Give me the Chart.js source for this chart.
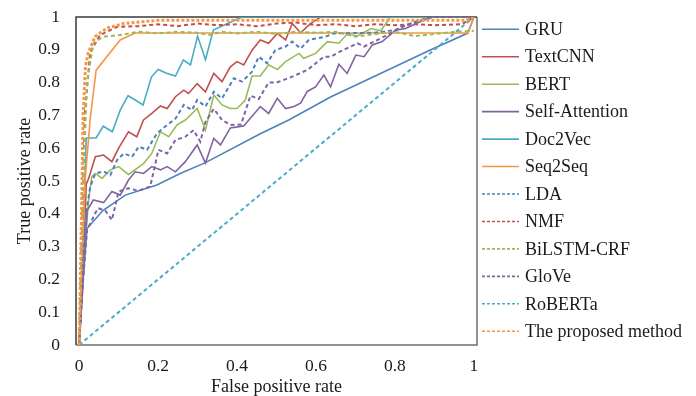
<!DOCTYPE html>
<html>
<head>
<meta charset="utf-8">
<script src="https://cdn.jsdelivr.net/npm/chart.js@4.4.1/dist/chart.umd.min.js"></script>
<style>
  html, body { margin: 0; padding: 0; background: #fff; }
</style>
</head>
<body>
<canvas id="rocChart" width="696" height="396"></canvas>
<script>
// ROC curves, [false positive rate, true positive rate]
const gru = [[0,0],[0.01,0.2],[0.02,0.355],[0.06,0.41],[0.117,0.457],[0.197,0.488],[0.256,0.523],[0.32,0.556],[0.459,0.644],[0.531,0.686],[0.637,0.756],[0.75,0.82],[0.891,0.9],[0.985,0.951],[1,1]];
const textCnn = [[0,0],[0.012,0.3],[0.018,0.49],[0.024,0.508],[0.041,0.574],[0.062,0.579],[0.083,0.559],[0.1,0.6],[0.125,0.65],[0.146,0.635],[0.163,0.686],[0.184,0.706],[0.206,0.729],[0.223,0.721],[0.244,0.757],[0.265,0.777],[0.277,0.767],[0.299,0.797],[0.32,0.772],[0.341,0.828],[0.362,0.803],[0.383,0.848],[0.4,0.864],[0.417,0.854],[0.438,0.899],[0.459,0.93],[0.48,0.92],[0.502,0.95],[0.523,0.93],[0.54,0.98],[0.561,0.952],[0.586,0.98],[0.612,1],[1,1]];
const bert = [[0,0],[0.012,0.25],[0.023,0.433],[0.032,0.513],[0.041,0.523],[0.058,0.508],[0.079,0.534],[0.1,0.544],[0.125,0.52],[0.163,0.553],[0.184,0.584],[0.206,0.65],[0.227,0.635],[0.248,0.671],[0.269,0.686],[0.299,0.721],[0.32,0.655],[0.341,0.762],[0.362,0.732],[0.383,0.721],[0.4,0.721],[0.421,0.747],[0.438,0.82],[0.459,0.82],[0.48,0.854],[0.502,0.84],[0.523,0.864],[0.557,0.889],[0.569,0.874],[0.599,0.889],[0.629,0.925],[0.658,0.92],[0.679,0.948],[0.705,0.942],[0.739,0.965],[0.764,0.958],[0.789,1],[1,1]];
const selfAttention = [[0,0],[0.01,0.2],[0.02,0.41],[0.036,0.442],[0.062,0.434],[0.083,0.468],[0.104,0.457],[0.125,0.503],[0.142,0.528],[0.163,0.523],[0.184,0.544],[0.206,0.534],[0.223,0.544],[0.244,0.528],[0.269,0.559],[0.299,0.61],[0.32,0.555],[0.341,0.63],[0.358,0.61],[0.383,0.662],[0.417,0.668],[0.459,0.727],[0.48,0.706],[0.502,0.752],[0.523,0.721],[0.544,0.727],[0.561,0.737],[0.578,0.773],[0.599,0.787],[0.62,0.823],[0.637,0.787],[0.658,0.856],[0.679,0.828],[0.701,0.884],[0.722,0.879],[0.743,0.915],[0.768,0.925],[0.802,0.96],[0.827,0.965],[0.865,0.986],[0.891,1],[1,1]];
const doc2Vec = [[0,0],[0.012,0.4],[0.018,0.631],[0.043,0.631],[0.061,0.667],[0.084,0.65],[0.104,0.716],[0.124,0.76],[0.142,0.747],[0.162,0.732],[0.183,0.817],[0.2,0.84],[0.223,0.828],[0.244,0.82],[0.264,0.869],[0.282,0.854],[0.3,0.942],[0.32,0.87],[0.34,0.96],[0.39,0.988],[0.414,1],[1,1]];
const seq2Seq = [[0,0],[0.015,0.5],[0.028,0.69],[0.043,0.838],[0.104,0.93],[0.142,0.951],[0.985,0.951],[1,1]];
const lda = [[0,0],[0.012,0.3],[0.02,0.42],[0.028,0.483],[0.041,0.523],[0.062,0.529],[0.079,0.518],[0.096,0.564],[0.113,0.584],[0.134,0.574],[0.151,0.605],[0.172,0.595],[0.197,0.645],[0.223,0.671],[0.244,0.69],[0.265,0.732],[0.286,0.716],[0.299,0.747],[0.32,0.727],[0.341,0.772],[0.362,0.752],[0.392,0.813],[0.413,0.803],[0.438,0.833],[0.455,0.879],[0.476,0.859],[0.497,0.899],[0.523,0.91],[0.54,0.925],[0.561,0.904],[0.582,0.93],[0.624,0.94],[0.645,0.95],[0.75,0.952],[0.8,0.96],[0.85,0.985],[0.9,1],[1,1]];
const nmf = [[0,0],[0.008,0.4],[0.014,0.7],[0.028,0.893],[0.053,0.945],[0.096,0.97],[0.15,0.972],[0.2,0.978],[0.25,0.972],[0.3,0.98],[0.35,0.975],[0.4,0.978],[0.45,0.972],[0.5,0.98],[0.55,0.983],[0.6,0.975],[0.65,0.978],[0.7,0.972],[0.75,0.978],[0.8,0.975],[0.85,0.978],[0.9,0.975],[0.97,0.978],[1,1]];
const biLstmCrf = [[0,0],[0.01,0.5],[0.02,0.8],[0.036,0.92],[0.061,0.94],[0.104,0.945],[0.15,0.955],[0.2,0.95],[0.25,0.955],[0.3,0.952],[0.33,0.945],[0.36,0.955],[0.4,0.95],[0.45,0.955],[0.5,0.948],[0.55,0.955],[0.6,0.952],[0.65,0.955],[0.7,0.94],[0.75,0.948],[0.8,0.955],[0.85,0.942],[0.9,0.948],[0.95,0.955],[1,0.958]];
const glove = [[0,0],[0.01,0.2],[0.02,0.35],[0.04,0.4],[0.048,0.417],[0.066,0.41],[0.083,0.381],[0.1,0.468],[0.125,0.478],[0.15,0.47],[0.18,0.483],[0.201,0.595],[0.223,0.584],[0.244,0.625],[0.269,0.635],[0.29,0.655],[0.307,0.62],[0.32,0.68],[0.341,0.72],[0.362,0.686],[0.383,0.671],[0.41,0.672],[0.434,0.76],[0.455,0.75],[0.48,0.8],[0.5,0.8],[0.54,0.818],[0.58,0.84],[0.62,0.879],[0.637,0.879],[0.662,0.895],[0.705,0.92],[0.722,0.91],[0.764,0.935],[0.789,0.95],[0.815,0.97],[0.865,0.99],[0.891,1],[1,1]];
const roberta = [[0,0],[0.25,0.25],[0.5,0.5],[0.75,0.75],[1,1]];
const proposed = [[0,0],[0.006,0.4],[0.01,0.7],[0.016,0.85],[0.023,0.89],[0.04,0.94],[0.07,0.966],[0.112,0.98],[0.2,0.99],[0.5,0.99],[0.98,0.99],[1,1]];

const seriesNames = ['GRU', 'TextCNN', 'BERT', 'Self-Attention', 'Doc2Vec', 'Seq2Seq',
  'LDA', 'NMF', 'BiLSTM-CRF', 'GloVe', 'RoBERTa', 'The proposed method'];
const seriesData = [gru, textCnn, bert, selfAttention, doc2Vec, seq2Seq,
  lda, nmf, biLstmCrf, glove, roberta, proposed];
const palette = ['#4F81BD', '#C0504D', '#9BBB59', '#8064A2', '#4BACC6', '#F79646'];
const xTicks = [0, 0.2, 0.4, 0.6, 0.8, 1];

const serif = '"Liberation Serif", "Times New Roman", serif';

const datasets = seriesNames.map((name, i) => {
  const dashed = i >= 6;
  const isProposed = i === 11;
  return {
    label: name,
    data: seriesData[i].map(p => ({ x: p[0], y: p[1] })),
    borderColor: palette[i % 6],
    backgroundColor: palette[i % 6],
    borderWidth: isProposed ? 3 : (dashed ? 2 : 1.6),
    borderDash: dashed ? (isProposed ? [3, 2] : [4, 3]) : [],
    pointRadius: 0,
    tension: 0,
    fill: false,
    order: 11 - i
  };
});

// box round the plot area
const framePlugin = {
  id: 'frame',
  beforeDatasetsDraw(chart) {
    const { ctx, chartArea: a } = chart;
    ctx.save();
    ctx.lineWidth = 1.5;
    ctx.strokeStyle = '#3a3a3a';
    ctx.beginPath();
    ctx.moveTo(a.left, a.bottom);
    ctx.lineTo(a.left, a.top);
    ctx.lineTo(a.right, a.top);
    ctx.stroke();
    ctx.strokeStyle = '#6e6e6e';
    ctx.beginPath();
    ctx.moveTo(a.right, a.top);
    ctx.lineTo(a.right, a.bottom);
    ctx.lineTo(a.left, a.bottom);
    ctx.stroke();
    ctx.restore();
  }
};

// legend column on the right, one row per dataset
const sideLegend = {
  id: 'sideLegend',
  afterDraw(chart) {
    const { ctx, chartArea: a } = chart;
    const x0 = a.right + 5;
    const rowH = 27.45;
    ctx.save();
    ctx.font = '18px ' + serif;
    ctx.textBaseline = 'middle';
    chart.data.datasets.forEach((ds, i) => {
      const y = a.top + 12.3 + i * rowH;
      ctx.strokeStyle = ds.borderColor;
      ctx.lineWidth = 1.6;
      ctx.setLineDash(ds.borderDash.length ? [3, 2] : []);
      ctx.beginPath();
      ctx.moveTo(x0, y);
      ctx.lineTo(x0 + 37, y);
      ctx.stroke();
      ctx.setLineDash([]);
      ctx.fillStyle = '#1a1a1a';
      ctx.fillText(ds.label, x0 + 43, y + 1);
    });
    ctx.restore();
  }
};

new Chart(document.getElementById('rocChart'), {
  type: 'line',
  data: { datasets },
  plugins: [framePlugin, sideLegend],
  options: {
    responsive: false,
    animation: false,
    layout: { padding: { left: 4, right: 219, top: 17, bottom: 0 } },
    plugins: {
      legend: { display: false },
      tooltip: { enabled: false }
    },
    scales: {
      x: {
        type: 'linear',
        min: -0.008,
        max: 1.008,
        afterBuildTicks: s => { s.ticks = xTicks.map(v => ({ value: v })); },
        afterFit: s => { s.height = 51; s.paddingLeft = 0; s.paddingRight = 0; },
        grid: { display: false, drawTicks: false },
        border: { display: false },
        ticks: {
          padding: 11,
          color: '#1a1a1a',
          font: { family: serif, size: 17.5 },
          callback: v => String(+v.toFixed(1))
        },
        title: {
          display: true,
          text: 'False positive rate',
          color: '#1a1a1a',
          font: { family: serif, size: 18, lineHeight: 1 },
          padding: { top: 0, bottom: 0 }
        }
      },
      y: {
        min: 0,
        max: 1,
        afterFit: s => { s.width = 72; s.paddingTop = 0; s.paddingBottom = 0; },
        grid: { display: false, drawTicks: false },
        border: { display: false },
        ticks: {
          stepSize: 0.1,
          padding: 16,
          color: '#1a1a1a',
          font: { family: serif, size: 17.5 },
          callback: v => String(+v.toFixed(1))
        },
        title: {
          display: true,
          text: 'True positive rate',
          color: '#1a1a1a',
          font: { family: serif, size: 18 },
          padding: { top: 10, bottom: 0 }
        }
      }
    }
  }
});
</script>
</body>
</html>
